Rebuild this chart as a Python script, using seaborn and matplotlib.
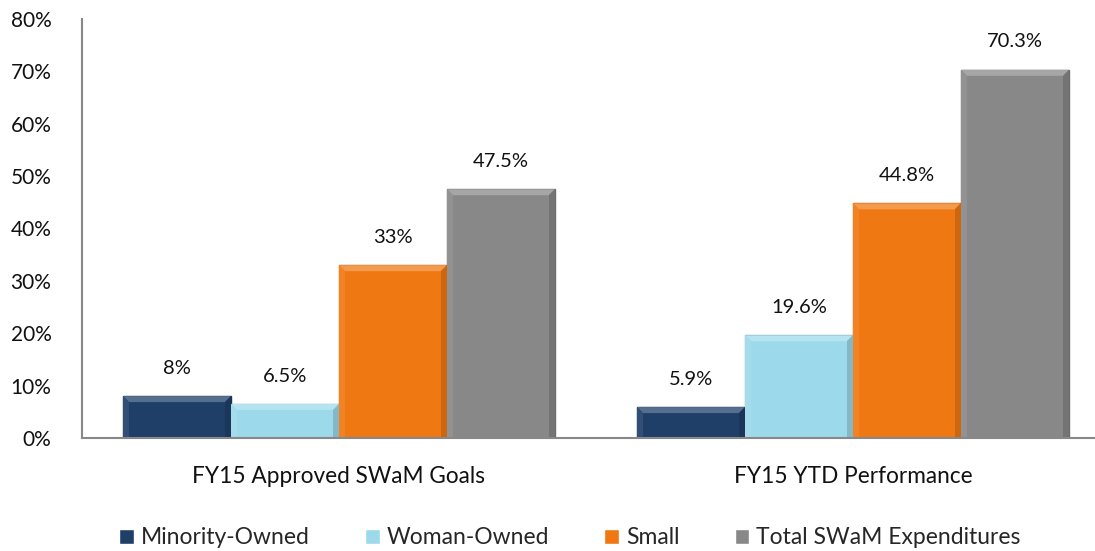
import matplotlib
matplotlib.use("Agg")
import matplotlib.pyplot as plt
from matplotlib.patches import Polygon
from matplotlib.colors import to_rgb
import seaborn as sns
import pandas as pd

groups = ["FY15 Approved SWaM Goals", "FY15 YTD Performance"]
series = ["Minority-Owned", "Woman-Owned", "Small", "Total SWaM Expenditures"]
goals = [8, 6.5, 33, 47.5]
ytd = [5.9, 19.6, 44.8, 70.3]
y_ticks = [0, 10, 20, 30, 40, 50, 60, 70, 80]

colors = ["#1F3F68", "#9CD9EA", "#F07812", "#888888"]


def shade(c, f):
    r, g, b = to_rgb(c)
    if f > 1:
        return tuple(v + (1 - v) * (f - 1) for v in (r, g, b))
    return tuple(v * f for v in (r, g, b))


df = pd.DataFrame({
    "group": [groups[0]] * 4 + [groups[1]] * 4,
    "series": series * 2,
    "value": goals + ytd,
})

sns.set_style("white")
plt.rcParams["font.family"] = ["Lato", "DejaVu Sans"]

fig = plt.figure(figsize=(10.95, 5.51), dpi=100)
W, H = 1095, 551
ax = fig.add_axes([82 / W, (H - 438) / H, (1110 - 82) / W, (438 - 19) / H])

sns.barplot(data=df, x="group", y="value", hue="series", hue_order=series,
            order=groups, palette=colors, width=0.84, saturation=1, ax=ax)

ax.set_ylim(0, 80)
ax.set_xlim(-0.5, 1.5)

# bevel look: size of a few pixels in data units
dx = 6 / 514
dy = 6 * 80 / 419
for cont, c in zip(ax.containers, colors):
    for p in cont:
        p.set_edgecolor(shade(c, 0.8))
        p.set_linewidth(1.0)
        x0, y0 = p.get_x(), p.get_y()
        x1, y1 = x0 + p.get_width(), y0 + p.get_height()
        ax.add_patch(Polygon([(x0, y1), (x1, y1), (x1 - dx, y1 - dy), (x0 + dx, y1 - dy)],
                             closed=True, facecolor=shade(c, 1.25), edgecolor="none", zorder=3))
        ax.add_patch(Polygon([(x1, y1), (x1, y0), (x1 - dx, y0), (x1 - dx, y1 - dy)],
                             closed=True, facecolor=shade(c, 0.85), edgecolor="none", zorder=3))
        ax.add_patch(Polygon([(x0, y1), (x0, y0), (x0 + dx, y0), (x0 + dx, y1 - dy)],
                             closed=True, facecolor=shade(c, 1.08), edgecolor="none", zorder=3))
    ax.bar_label(cont, labels=[f"{v:g}%" for v in cont.datavalues],
                 padding=14, fontsize=14.5, color="#111111")

ax.set_yticks(y_ticks)
ax.set_yticklabels([f"{t}%" for t in y_ticks])
ax.set_xlabel("")
ax.set_ylabel("")
ax.tick_params(axis="y", length=0, pad=22, labelsize=15, labelcolor="#111111")
ax.tick_params(axis="x", length=0, pad=20, labelsize=16.3, labelcolor="#111111")
for s in ["top", "right"]:
    ax.spines[s].set_visible(False)
for s in ["left", "bottom"]:
    ax.spines[s].set_color("#888888")
    ax.spines[s].set_linewidth(1.5)
    ax.spines[s].set_zorder(4)

handles, labels = ax.get_legend_handles_labels()
ax.get_legend().remove()
fig.legend(handles, labels, loc="center", bbox_to_anchor=(570 / W, 1 - 538 / H),
           ncol=4, frameon=False, fontsize=16.5, handlelength=0.65, handleheight=0.65,
           handletextpad=0.3, columnspacing=2.4)

fig.savefig("out.png", dpi=100)
